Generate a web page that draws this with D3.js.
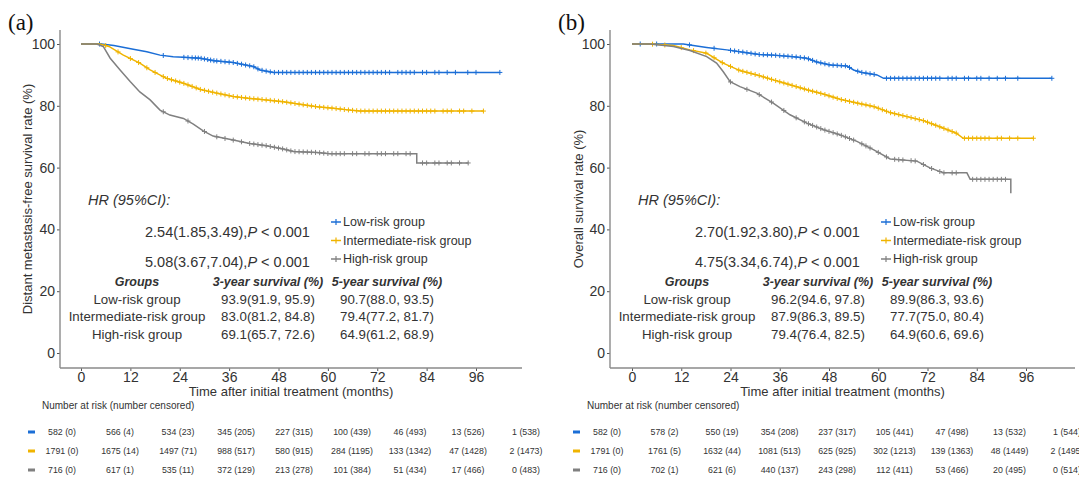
<!DOCTYPE html>
<html>
<head>
<meta charset="utf-8">
<script src="https://cdn.jsdelivr.net/npm/d3@7"></script>
<style>
  body { margin: 0; background: #fff; }
  svg { display: block; }
  text { font-family: "Liberation Sans", Arial, sans-serif; fill: #333; }
</style>
</head>
<body>
<svg id="chart" width="1079" height="481"></svg>
<script>
/* ---- data ---- */
var months = [0, 12, 24, 36, 48, 60, 72, 84, 96];
var yTicks = [0, 20, 40, 60, 80, 100];
var groups = ["Low-risk group", "Intermediate-risk group", "High-risk group"];
var colors = ["#1b6ed6", "#f0b400", "#808080"];

/* (a) distant metastasis-free survival: [month, survival %] */
var lowA = [[0,100],[5,100],[8,99.5],[12.7,98.3],[16,97.5],[19.2,96.4],[22.4,95.9],[26,95.6],[29,95.4],[32.3,94.6],[37,94.0],[40,93.2],[41.9,92.7],[43.5,91.6],[46.7,90.8],[101.8,90.8]];
var intA = [[0,100],[4.6,100],[6.8,99.2],[10.3,96.4],[14.3,93.8],[16.8,91.6],[20.8,88.9],[24.9,87.3],[29,85.3],[33,84.1],[37,83.0],[41,82.4],[45,81.9],[49.2,81.3],[53.2,80.5],[57.3,79.7],[61.3,79.2],[65.4,78.6],[67.8,78.3],[97.8,78.3]];
var highA = [[0,100],[3.8,100],[5.4,99.2],[7.1,95.4],[9.5,91.6],[12,87.8],[14.3,84.5],[16.8,81.9],[19.2,78.6],[21.6,77.0],[24.9,75.9],[27.3,74.1],[29.7,71.9],[32.1,70.2],[37,68.9],[41,67.8],[45,67.1],[49.2,66.0],[51.6,65.2],[57.3,64.9],[60.5,64.5],[81.6,64.5],[81.6,61.5],[94.1,61.5]];
var censLowA = [4.5,20,25,26,27,27.8,28.5,29.2,30,30.8,31.5,32.3,33,34,35,36,37,38,39,40,41,42,43,44,45,46,47,48,49,50,51,52,53,54,55,56,57,58,59,60,61,62,63,64,65,66,67,68,69,70,71,72,73,74,75,77,78,79,80,81,83,84,86,87,89,91,94,96,101.8];
var censIntA = [6,9,12,14,16,18,20,21,22,23,24,25,26,27,28,29,30,31,32,33,34,35,36,37,38,39,40,41,42,43,44,45,46,47,48,49,50,51,52,53,54,55,56,57,58,59,60,61,62,63,64,65,66,67,68,69,70,71,72,73,74,75,76,77,78,79,80,81,82,83,84,85,86,88,89,90,92,93,95,97.8];
var censHighA = [20,26,30,33,35,37,39,41,42,43,44,45,46,47,48,49,50,51,52,53,54,55,56,57,58,59,60,61,62,63,64,66,67,69,70,72,73,74,76,77,79,80,83,84,86,87,89,90,92,94.1];
var hrA = ["2.54(1.85,3.49)", "5.08(3.67,7.04)"];
var surv3A = ["93.9(91.9, 95.9)", "83.0(81.2, 84.8)", "69.1(65.7, 72.6)"];
var surv5A = ["90.7(88.0, 93.5)", "79.4(77.2, 81.7)", "64.9(61.2, 68.9)"];
var riskLowA = ["582 (0)", "566 (4)", "534 (23)", "345 (205)", "227 (315)", "100 (439)", "46 (493)", "13 (526)", "1 (538)"];
var riskIntA = ["1791 (0)", "1675 (14)", "1497 (71)", "988 (517)", "580 (915)", "284 (1195)", "133 (1342)", "47 (1428)", "2 (1473)"];
var riskHighA = ["716 (0)", "617 (1)", "535 (11)", "372 (129)", "213 (278)", "101 (384)", "51 (434)", "17 (466)", "0 (483)"];

/* (b) overall survival */
var lowB = [[0,100],[12.5,100],[18.2,98.9],[23.1,98.1],[27.9,97.2],[31,96.6],[34.4,96.4],[39.3,95.9],[42.6,95.4],[45,94.2],[48.3,93.2],[52.4,92.9],[54,91.6],[56,90.8],[59.7,90.0],[61.3,88.9],[102.3,88.9]];
var intB = [[0,100],[4.4,100],[10.1,99.5],[14.1,98.1],[18.2,97.0],[22.2,93.8],[26.3,91.4],[30.4,90.0],[34.4,88.4],[38.5,86.8],[42.6,85.2],[46.6,83.8],[50.7,82.1],[54.8,80.9],[58.8,79.8],[62.9,77.8],[67,76.5],[71,75.2],[75,73.2],[79.1,71.1],[80.7,69.5],[97.8,69.5]];
var highB = [[0,100],[4.4,100],[10.1,99.2],[14.1,97.9],[18.2,95.9],[20.6,93.8],[22.2,91.1],[23.9,87.8],[26.3,86.2],[30.4,84.1],[34.4,80.9],[38.5,77.1],[42.6,74.4],[46.6,72.3],[50.7,70.6],[54.8,68.5],[58.8,65.8],[62.9,62.8],[69.4,62.1],[72.6,59.9],[75.9,58.3],[81.6,58.3],[82.4,56.2],[92.3,56.2],[92.3,51.7]];
var censLowB = [2,6,14,20,24,25,26,27,28,29,30,31,32,33,34,35,36,37,38,39,40,41,42,43,44,45,46,47,48,49,50,51,52,53,55,56,57,58,59,62,63,64,65,66,67,68,69,70,71,72,73,74,75,77,78,79,81,82,84,85,87,89,91,94,102.3];
var censIntB = [5,8,12,15,18,20,22,24,26,27,28,29,30,31,32,33,34,35,36,37,38,39,40,41,42,43,44,45,46,47,48,49,50,51,52,53,54,55,56,57,58,59,60,61,62,63,64,65,66,67,68,69,70,71,72,73,74,75,76,77,78,79,81,82,83,84,85,86,87,89,90,92,94,97.8];
var censHighB = [24,28,31,34,37,40,42,43,44,45,46,47,48,49,50,51,52,53,54,56,57,58,60,62,64,65,66,68,69,71,73,75,76,78,79,83,84,85,86,87,88,89,90,91];
var hrB = ["2.70(1.92,3.80)", "4.75(3.34,6.74)"];
var surv3B = ["96.2(94.6, 97.8)", "87.9(86.3, 89.5)", "79.4(76.4, 82.5)"];
var surv5B = ["89.9(86.3, 93.6)", "77.7(75.0, 80.4)", "64.9(60.6, 69.6)"];
var riskLowB = ["582 (0)", "578 (2)", "550 (19)", "354 (208)", "237 (317)", "105 (441)", "47 (498)", "13 (532)", "1 (544)"];
var riskIntB = ["1791 (0)", "1761 (5)", "1632 (44)", "1081 (513)", "625 (925)", "302 (1213)", "139 (1363)", "48 (1449)", "2 (1495)"];
var riskHighB = ["716 (0)", "702 (1)", "621 (6)", "440 (137)", "243 (298)", "112 (411)", "53 (466)", "20 (495)", "0 (514)"];

/* ---- layout ---- */
var svg = d3.select("#chart");
svg.append("rect").attr("width", 1079).attr("height", 481).attr("fill", "#fff");

var panels = [
  {tag: "(a)", axisX: 60, axisEnd: 522, x0: 81, x96: 476, ylabelX: 27,
   ylabel: "Distant metastasis-free survival rate (%)",
   curves: [lowA, intA, highA], cens: [censLowA, censIntA, censHighA],
   hr: hrA, s3: surv3A, s5: surv5A, risk: [riskLowA, riskIntA, riskHighA], risk0: 62, risk96: 526},
  {tag: "(b)", axisX: 610, axisEnd: 1075, x0: 632, x96: 1026, ylabelX: 578,
   ylabel: "Overall survival rate (%)",
   curves: [lowB, intB, highB], cens: [censLowB, censIntB, censHighB],
   hr: hrB, s3: surv3B, s5: surv5B, risk: [riskLowB, riskIntB, riskHighB], risk0: 607, risk96: 1067}
];

/* survival at time t */
function survAt(pts, t) {
  for (var i = 0; i < pts.length - 1; i++) {
    var a = pts[i], b = pts[i + 1];
    if (t >= a[0] && t <= b[0]) {
      if (b[0] === a[0]) return a[1];
      return a[1] + (b[1] - a[1]) * (t - a[0]) / (b[0] - a[0]);
    }
  }
  return pts[pts.length - 1][1];
}

panels.forEach(function(p) {
  var x = d3.scaleLinear().domain([0, 96]).range([p.x0, p.x96]),
      y = d3.scaleLinear().domain([0, 100]).range([353, 44]);
  var g = svg.append("g");

  /* panel tag */
  g.append("text")
      .attr("x", p.axisX - 52).attr("y", 30)
      .style("font-family", "'Liberation Serif', 'Times New Roman', serif")
      .style("font-size", "23px").style("fill", "#111")
      .text(p.tag);

  /* axes */
  var xAxis = g.append("g")
      .attr("transform", "translate(0,368)")
      .call(d3.axisBottom(x).tickValues(months).tickSize(3).tickPadding(1));
  var yAxis = g.append("g")
      .attr("transform", "translate(" + p.axisX + ",0)")
      .call(d3.axisLeft(y).tickValues(yTicks).tickSize(3).tickPadding(2));
  [xAxis, yAxis].forEach(function(a) {
    a.select(".domain").remove();
    a.selectAll("line").attr("stroke", "#555");
    a.selectAll("text").style("font-size", "14px").style("fill", "#333");
  });
  g.append("line").attr("x1", p.axisX).attr("x2", p.axisEnd).attr("y1", 368).attr("y2", 368)
      .attr("stroke", "#8a8a8a").attr("stroke-width", 1.4);
  g.append("line").attr("x1", p.axisX).attr("x2", p.axisX).attr("y1", 30).attr("y2", 368)
      .attr("stroke", "#8a8a8a").attr("stroke-width", 1.4);

  g.append("text")
      .attr("x", (p.axisX + p.axisEnd) / 2).attr("y", 396)
      .attr("text-anchor", "middle").style("font-size", "13px")
      .text("Time after initial treatment (months)");
  g.append("text")
      .attr("transform", "translate(" + p.ylabelX + ",199) rotate(-90)")
      .attr("text-anchor", "middle").attr("dy", "0.35em").style("font-size", "13px")
      .text(p.ylabel);

  /* survival curves with censor marks */
  var line = d3.line().x(function(d) { return x(d[0]); }).y(function(d) { return y(d[1]); });
  p.curves.forEach(function(c, i) {
    g.append("path").datum(c)
        .attr("fill", "none").attr("stroke", colors[i]).attr("stroke-width", 1.5)
        .attr("d", line);
    g.selectAll(".cens" + i)
      .data(p.cens[i])
      .enter().append("path")
        .attr("class", "cens" + i)
        .attr("fill", "none").attr("stroke", colors[i]).attr("stroke-width", 1)
        .attr("d", function(t) {
          var cx = x(t), cy = y(survAt(c, t));
          return "M" + (cx - 2.5) + "," + cy + "H" + (cx + 2.5) + "M" + cx + "," + (cy - 2.5) + "V" + (cy + 2.5);
        });
  });

  /* HR block */
  g.append("text").attr("x", p.axisX + 28).attr("y", 200).attr("dy", "0.35em")
      .style("font-size", "14.5px").style("font-style", "italic").text("HR (95%CI):");
  p.hr.forEach(function(h, i) {
    var t = g.append("text").attr("x", p.axisX + 85).attr("y", 232 + i * 30).attr("dy", "0.35em")
        .style("font-size", "14.5px");
    t.append("tspan").text(h + ",");
    t.append("tspan").style("font-style", "italic").text("P");
    t.append("tspan").text(" < 0.001");
  });

  /* legend */
  groups.forEach(function(name, i) {
    var ly = 222 + i * 18.5, lx = p.axisX + 276;
    g.append("line").attr("x1", lx - 5).attr("x2", lx + 5).attr("y1", ly).attr("y2", ly)
        .attr("stroke", colors[i]).attr("stroke-width", 1.5);
    g.append("line").attr("x1", lx).attr("x2", lx).attr("y1", ly - 3).attr("y2", ly + 3)
        .attr("stroke", colors[i]).attr("stroke-width", 1.2);
    g.append("text").attr("x", lx + 7).attr("y", ly).attr("dy", "0.35em")
        .style("font-size", "12.5px").text(name);
  });

  /* survival table */
  var cols = [p.axisX + 77, p.axisX + 208, p.axisX + 327];
  ["Groups", "3-year survival (%)", "5-year survival (%)"].forEach(function(h, j) {
    g.append("text").attr("x", cols[j]).attr("y", 282).attr("dy", "0.35em")
        .attr("text-anchor", "middle")
        .style("font-size", "12.5px").style("font-weight", "bold").style("font-style", "italic")
        .text(h);
  });
  groups.forEach(function(name, i) {
    [name, p.s3[i], p.s5[i]].forEach(function(v, j) {
      g.append("text").attr("x", cols[j]).attr("y", 299 + i * 17.5).attr("dy", "0.35em")
          .attr("text-anchor", "middle").style("font-size", "13.3px").text(v);
    });
  });

  /* number at risk table */
  var rx = d3.scaleLinear().domain([0, 96]).range([p.risk0, p.risk96]);
  g.append("text").attr("x", p.risk0 - 20).attr("y", 405).attr("dy", "0.35em")
      .style("font-size", "10px").text("Number at risk (number censored)");
  p.risk.forEach(function(row, i) {
    var ry = 432 + i * 19;
    g.append("rect").attr("x", p.risk0 - 34).attr("y", ry - 1.5).attr("width", 7).attr("height", 3)
        .attr("fill", colors[i]);
    g.selectAll(".risk" + i)
      .data(row)
      .enter().append("text")
        .attr("class", "risk" + i)
        .attr("x", function(d, k) { return rx(months[k]); })
        .attr("y", ry).attr("dy", "0.35em")
        .attr("text-anchor", "middle").style("font-size", "8.8px")
        .text(function(d) { return d; });
  });
});
</script>
</body>
</html>
